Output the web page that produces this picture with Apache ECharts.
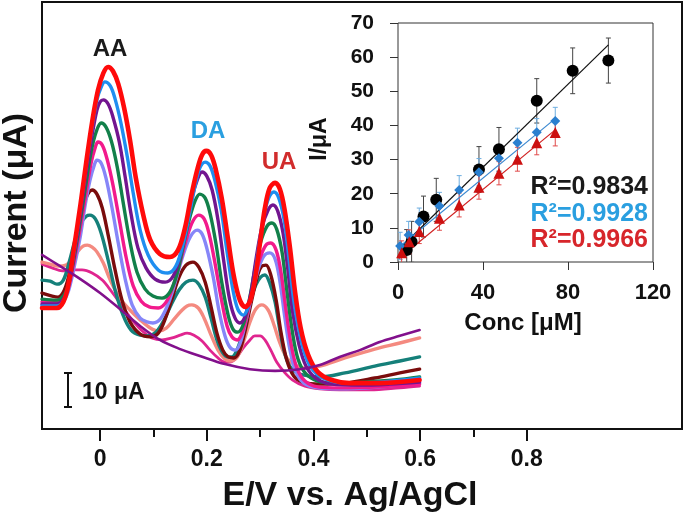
<!DOCTYPE html>
<html>
<head>
<meta charset="utf-8">
<script src="https://cdn.jsdelivr.net/npm/echarts@6.0.0/dist/echarts.min.js"></script>
<style>html,body{margin:0;padding:0;background:#fff}#c{width:685px;height:519px}</style>
</head>
<body>
<div id="c"></div>
<script>
// ---------- Main DPV curves: [potential (V vs Ag/AgCl), current (uA)] ----------
const curveRed = [[-0.109,35.6],[-0.081,35.6],[-0.069,37.4],[-0.060,42.1],[-0.049,53.2],[-0.037,65.9],[-0.026,78.5],[-0.015,90.3],[-0.004,99.7],[0.006,104.7],[0.015,106.5],[0.024,105.3],[0.034,101.5],[0.045,94.4],[0.056,85.0],[0.067,73.8],[0.081,62.9],[0.094,55.6],[0.112,51.5],[0.131,50.6],[0.146,52.6],[0.159,59.1],[0.170,67.9],[0.182,76.2],[0.191,80.6],[0.199,81.8],[0.208,80.6],[0.217,76.2],[0.228,67.9],[0.240,55.6],[0.251,44.7],[0.262,37.9],[0.272,35.9],[0.281,37.6],[0.290,43.8],[0.300,55.0],[0.309,65.0],[0.318,70.9],[0.328,72.4],[0.337,70.6],[0.346,64.4],[0.356,53.2],[0.365,40.9],[0.376,29.7],[0.390,21.8],[0.408,16.8],[0.434,14.4],[0.468,13.5],[0.524,13.5],[0.599,14.4]];
const curveBlue = [[-0.109,36.2],[-0.081,36.2],[-0.069,37.6],[-0.060,41.8],[-0.049,52.1],[-0.037,65.0],[-0.026,77.6],[-0.015,88.8],[-0.006,96.8],[0.002,100.6],[0.009,102.1],[0.019,100.9],[0.028,97.1],[0.039,90.0],[0.051,80.0],[0.062,69.4],[0.075,58.5],[0.090,51.2],[0.109,46.8],[0.127,45.9],[0.142,47.9],[0.155,54.1],[0.167,62.9],[0.178,71.5],[0.187,76.8],[0.197,78.5],[0.206,77.4],[0.215,73.2],[0.227,64.4],[0.238,52.1],[0.249,40.9],[0.258,35.3],[0.268,33.5],[0.277,35.6],[0.287,41.8],[0.296,52.1],[0.307,62.6],[0.316,67.9],[0.326,69.7],[0.335,67.9],[0.345,61.5],[0.354,50.3],[0.363,37.9],[0.375,27.4],[0.388,20.3],[0.406,16.2],[0.434,14.1],[0.468,13.5],[0.524,13.8],[0.599,15.0]];
const curveViolet = [[-0.109,36.8],[-0.081,36.8],[-0.069,38.2],[-0.060,41.8],[-0.049,50.9],[-0.037,63.2],[-0.026,75.6],[-0.015,86.5],[-0.006,93.8],[0,96.2],[0.006,96.8],[0.015,95.6],[0.024,91.8],[0.036,84.4],[0.047,74.1],[0.058,63.2],[0.071,53.2],[0.086,47.4],[0.103,44.1],[0.122,43.2],[0.137,45.0],[0.150,50.9],[0.161,59.1],[0.172,67.9],[0.182,73.2],[0.191,75.6],[0.200,74.4],[0.210,70.3],[0.221,61.5],[0.232,49.1],[0.243,37.9],[0.253,32.6],[0.262,31.2],[0.272,33.2],[0.283,40.3],[0.292,49.7],[0.303,59.1],[0.315,64.4],[0.324,65.9],[0.333,64.1],[0.343,57.6],[0.352,46.8],[0.361,34.4],[0.373,24.7],[0.386,18.5],[0.404,15.0],[0.434,13.2],[0.487,12.9],[0.543,13.2],[0.599,13.8]];
const curveGreen = [[-0.109,38.2],[-0.081,37.9],[-0.069,39.1],[-0.060,42.1],[-0.049,50.3],[-0.037,61.5],[-0.026,72.6],[-0.017,81.5],[-0.007,87.6],[0.002,90.0],[0.011,88.8],[0.021,84.7],[0.032,77.1],[0.043,66.8],[0.056,55.0],[0.069,46.2],[0.084,41.2],[0.099,39.1],[0.116,38.5],[0.131,40.3],[0.144,45.6],[0.155,53.2],[0.167,61.5],[0.178,67.1],[0.187,69.1],[0.197,67.9],[0.206,63.5],[0.217,54.7],[0.228,43.2],[0.240,33.5],[0.249,29.4],[0.258,28.5],[0.268,30.6],[0.279,37.4],[0.290,46.8],[0.301,55.0],[0.313,59.7],[0.322,60.6],[0.331,58.8],[0.341,52.1],[0.350,40.9],[0.360,29.1],[0.371,20.6],[0.386,16.2],[0.408,14.1],[0.440,13.5],[0.496,13.8],[0.552,14.4],[0.599,15.3]];
const curveHotPink = [[-0.109,37.4],[-0.081,37.4],[-0.069,38.5],[-0.060,41.2],[-0.049,49.1],[-0.037,59.4],[-0.026,69.7],[-0.017,78.2],[-0.009,82.9],[-0.004,84.4],[0.004,83.5],[0.013,79.4],[0.024,71.8],[0.036,61.5],[0.049,50.3],[0.062,42.1],[0.077,37.6],[0.092,35.9],[0.109,35.6],[0.124,37.4],[0.137,42.1],[0.150,49.1],[0.163,56.5],[0.174,61.2],[0.185,62.9],[0.195,61.8],[0.204,57.6],[0.215,49.1],[0.227,38.5],[0.238,30.3],[0.247,27.1],[0.257,26.2],[0.266,28.2],[0.277,34.7],[0.288,43.2],[0.300,50.3],[0.311,54.1],[0.320,54.7],[0.330,52.6],[0.339,46.2],[0.348,35.6],[0.358,25.0],[0.369,17.9],[0.384,14.1],[0.408,12.4],[0.449,12.1],[0.524,12.4],[0.599,13.2]];
const curveLavender = [[-0.109,36.5],[-0.081,36.5],[-0.069,37.6],[-0.060,40.3],[-0.049,47.4],[-0.037,56.8],[-0.028,65.9],[-0.019,73.2],[-0.011,77.6],[-0.006,79.1],[0.002,78.2],[0.011,73.8],[0.022,65.3],[0.034,54.7],[0.047,44.1],[0.060,36.5],[0.075,32.6],[0.088,31.5],[0.099,31.2],[0.114,32.6],[0.129,37.4],[0.142,43.8],[0.155,50.9],[0.169,56.5],[0.182,58.5],[0.191,57.4],[0.200,53.2],[0.212,44.7],[0.223,34.7],[0.234,27.4],[0.243,24.1],[0.253,23.2],[0.262,25.0],[0.273,31.5],[0.285,39.7],[0.296,46.8],[0.307,50.9],[0.318,51.8],[0.328,50.0],[0.337,43.5],[0.346,33.2],[0.356,23.2],[0.367,16.8],[0.382,13.5],[0.408,12.1],[0.449,11.8],[0.524,12.4],[0.599,13.5]];
const curveMaroon = [[-0.109,40.0],[-0.090,39.1],[-0.079,38.8],[-0.067,40.9],[-0.056,46.8],[-0.045,56.2],[-0.034,64.4],[-0.024,68.8],[-0.015,70.3],[-0.006,69.1],[0.004,65.0],[0.015,57.1],[0.028,46.8],[0.041,37.9],[0.056,31.5],[0.075,27.9],[0.094,27.1],[0.109,28.2],[0.122,32.4],[0.135,38.5],[0.148,44.7],[0.161,48.2],[0.174,49.1],[0.185,47.6],[0.197,43.2],[0.208,35.9],[0.219,28.2],[0.230,23.2],[0.240,21.2],[0.251,20.9],[0.262,23.2],[0.273,29.7],[0.285,38.5],[0.296,45.6],[0.303,47.9],[0.311,48.2],[0.320,45.3],[0.330,37.9],[0.339,28.5],[0.350,20.3],[0.363,15.6],[0.380,13.8],[0.412,13.2],[0.459,13.5],[0.515,15.0],[0.562,16.5],[0.599,17.6]];
const curveTeal = [[-0.109,43.8],[-0.094,43.5],[-0.081,42.6],[-0.069,43.8],[-0.058,49.1],[-0.047,55.6],[-0.036,60.6],[-0.026,62.6],[-0.019,62.9],[-0.009,61.8],[0.002,57.6],[0.015,49.7],[0.028,40.9],[0.043,33.5],[0.058,29.1],[0.075,27.6],[0.088,27.4],[0.103,28.2],[0.118,31.5],[0.133,36.5],[0.148,40.9],[0.161,43.2],[0.174,43.8],[0.185,42.6],[0.197,38.8],[0.208,32.6],[0.219,26.2],[0.230,22.4],[0.240,21.2],[0.247,21.2],[0.258,23.8],[0.270,30.0],[0.281,37.4],[0.292,42.4],[0.301,44.7],[0.309,45.3],[0.318,42.9],[0.328,37.4],[0.337,29.1],[0.348,21.2],[0.361,17.4],[0.380,15.9],[0.412,15.3],[0.459,16.5],[0.515,18.5],[0.562,20.0],[0.599,21.2]];
const curveSalmon = [[-0.109,49.1],[-0.094,48.5],[-0.079,47.9],[-0.064,48.2],[-0.052,50.0],[-0.041,52.4],[-0.032,53.8],[-0.024,54.1],[-0.015,53.5],[-0.006,52.1],[0.006,48.8],[0.019,43.8],[0.037,38.5],[0.056,35.0],[0.075,32.1],[0.094,29.7],[0.109,28.8],[0.124,29.7],[0.139,32.4],[0.152,34.7],[0.163,36.2],[0.172,36.5],[0.184,35.6],[0.195,32.6],[0.208,27.6],[0.221,23.2],[0.232,20.9],[0.243,20.0],[0.257,21.2],[0.270,26.2],[0.281,31.5],[0.292,35.3],[0.303,36.5],[0.315,35.0],[0.326,30.6],[0.337,25.3],[0.350,20.9],[0.365,18.8],[0.384,17.9],[0.412,18.5],[0.459,20.9],[0.515,23.5],[0.562,25.3],[0.599,26.8]];
const curveMagenta = [[-0.109,48.5],[-0.090,47.4],[-0.071,46.5],[-0.052,46.8],[-0.034,46.8],[-0.015,45.9],[0.004,43.8],[0.022,40.3],[0.041,36.2],[0.060,32.1],[0.079,28.8],[0.097,26.8],[0.116,26.2],[0.135,26.8],[0.150,27.6],[0.163,28.2],[0.176,27.6],[0.191,25.9],[0.206,23.2],[0.221,20.9],[0.234,19.7],[0.243,19.7],[0.255,20.9],[0.268,23.8],[0.281,26.2],[0.290,27.4],[0.300,27.4],[0.309,26.2],[0.320,23.2],[0.331,19.7],[0.345,16.8],[0.361,14.4],[0.384,12.6],[0.412,11.8],[0.449,11.5],[0.506,11.5],[0.562,12.1],[0.599,12.6]];
const curveBlank = [[-0.109,51.2],[-0.075,47.9],[-0.037,44.1],[0,40.0],[0.037,35.3],[0.075,30.3],[0.112,26.2],[0.150,23.5],[0.187,21.5],[0.234,19.1],[0.281,17.6],[0.328,17.1],[0.375,17.6],[0.412,18.8],[0.449,21.2],[0.487,23.2],[0.524,25.6],[0.562,27.4],[0.599,29.1]];

// main axis ticks
const mainLabelValues = [0, 0.2, 0.4, 0.6, 0.8];
const mainMinorTicks = [0, 0.1, 0.2, 0.3, 0.4, 0.5, 0.6, 0.7, 0.8];

// ---------- Inset calibration data ----------
const aaConc = [4.1, 6.4, 12, 18, 38.1, 47.5, 65.3, 82.2, 99];
const aaCurrent = [3.5, 5.9, 13.3, 18.2, 27.1, 33.0, 47.2, 56.0, 59.0];
const aaErr = [6, 6, 6, 6.3, 6.7, 6.4, 6.5, 6.7, 6.6];
const daConc = [1, 5, 10, 19.5, 28.8, 38.1, 47.5, 56.2, 65.3, 74];
const daCurrent = [4.7, 7.9, 11.8, 16.4, 21.1, 26.3, 30.4, 34.9, 38.0, 41.3];
const daErr = [4, 4, 4, 4, 4.2, 4, 4, 4.3, 4, 4];
const uaConc = [1.7, 5.3, 10, 19.5, 28.8, 38.1, 47.5, 56.2, 65.3, 74];
const uaCurrent = [2.7, 5.9, 8.9, 12.8, 16.7, 21.9, 26.0, 30.1, 34.9, 37.9];
const uaErr = [3.5, 3.5, 3.5, 3.5, 3.5, 3.5, 3.4, 3.5, 3.5, 3.9];
const aaFit = [[1, 4.1], [99, 63.6]];
const daFit = [[1, 4.6], [74, 42.0]];
const uaFit = [[0.5, 1.0], [74, 38.7]];
const r2Texts = ['R\u00B2=0.9834', 'R\u00B2=0.9928', 'R\u00B2=0.9966'];
const insetXTicks = [0, 40, 80, 120];
const insetYMax = 70;

const FONT = '"Liberation Sans", Arial, Helvetica, sans-serif';
const chart = echarts.init(document.getElementById('c'));

function curve(name, data, color, width) {
  return {
    name, type: 'line', xAxisIndex: 0, yAxisIndex: 0, data,
    showSymbol: false, smooth: 0.35, silent: true,
    lineStyle: { color, width, cap: 'round', join: 'round' }
  };
}
function errBars(name, xs, ys, es, color) {
  return {
    name, type: 'custom', xAxisIndex: 2, yAxisIndex: 1, clip: true, z: 2,
    data: xs.map((x, i) => [x, ys[i], es[i]]),
    renderItem: function (params, api) {
      const x = api.value(0), y = api.value(1), e = api.value(2);
      const t = api.coord([x, y + e]);
      const b = api.coord([x, y - e]);
      const c = 2.5;
      const st = { stroke: color, lineWidth: 1 };
      return {
        type: 'group', children: [
          { type: 'line', shape: { x1: t[0], y1: t[1], x2: b[0], y2: b[1] }, style: st },
          { type: 'line', shape: { x1: t[0] - c, y1: t[1], x2: t[0] + c, y2: t[1] }, style: st },
          { type: 'line', shape: { x1: b[0] - c, y1: b[1], x2: b[0] + c, y2: b[1] }, style: st }
        ]
      };
    }
  };
}
function fitLine(name, data, color) {
  return { name, type: 'line', xAxisIndex: 2, yAxisIndex: 1, data, showSymbol: false, z: 3,
    lineStyle: { color, width: 1.2 } };
}
function pts(name, xs, ys, symbol, size, color) {
  return { name, type: 'scatter', xAxisIndex: 2, yAxisIndex: 1, z: 4,
    data: xs.map((x, i) => [x, ys[i]]), symbol, symbolSize: size,
    itemStyle: { color, opacity: 1 } };
}
function txt(text, x, y, size, color, opts) {
  opts = opts || {};
  return {
    type: 'text', x, y, rotation: opts.rotation || 0, z: 100,
    style: { text, fill: color, font: 'bold ' + size + 'px ' + FONT,
      align: opts.align || 'center', verticalAlign: 'middle' }
  };
}

const option = {
  animation: false,
  backgroundColor: '#ffffff',
  grid: [
    { left: 42, top: 2, width: 640, height: 427, show: true, borderColor: '#111', borderWidth: 2, backgroundColor: 'transparent' },
    { left: 398, top: 23, width: 255, height: 239, show: true, borderColor: '#333', borderWidth: 1, backgroundColor: 'transparent' }
  ],
  xAxis: [
    { gridIndex: 0, type: 'value', min: -0.109, max: 1.091, position: 'bottom',
      axisLine: { show: false }, splitLine: { show: false },
      axisTick: { show: true, customValues: mainMinorTicks, length: 8, lineStyle: { color: '#111', width: 2 } },
      axisLabel: { customValues: mainLabelValues, margin: 19, color: '#111', fontSize: 23, fontWeight: 'bold', fontFamily: FONT,
        formatter: v => String(Math.round(v * 10) / 10) } },
    { gridIndex: 0, type: 'value', min: -0.109, max: 1.091, position: 'bottom', offset: 0,
      axisLine: { show: false }, splitLine: { show: false },
      axisTick: { show: true, customValues: mainLabelValues, length: 12, lineStyle: { color: '#111', width: 2 } },
      axisLabel: { show: false } },
    { gridIndex: 1, type: 'value', min: insetXTicks[0], max: insetXTicks[insetXTicks.length - 1], interval: 40,
      axisLine: { show: false }, splitLine: { show: false },
      axisTick: { show: true, length: 8, lineStyle: { color: '#333', width: 1 } },
      axisLabel: { margin: 20, color: '#111', fontSize: 22, fontWeight: 'bold', fontFamily: FONT } }
  ],
  yAxis: [
    { gridIndex: 0, type: 'value', min: 0, max: 125.6, show: false },
    { gridIndex: 1, type: 'value', min: 0, max: insetYMax, interval: 10,
      axisLine: { show: false }, splitLine: { show: false },
      axisTick: { show: true, length: 8, lineStyle: { color: '#333', width: 1 } },
      axisLabel: { margin: 24, color: '#111', fontSize: 21, fontWeight: 'bold', fontFamily: FONT } }
  ],
  series: [
    curve('magenta', curveMagenta, '#e0258f', 2.8),
    curve('salmon', curveSalmon, '#f48a80', 3.4),
    curve('teal', curveTeal, '#15807a', 3.4),
    curve('maroon', curveMaroon, '#7a0c0c', 3.4),
    curve('lavender', curveLavender, '#8686f8', 3.4),
    curve('hotpink', curveHotPink, '#f21a8c', 3.4),
    curve('green', curveGreen, '#12804a', 3.4),
    curve('violet', curveViolet, '#72158f', 3.4),
    curve('blue', curveBlue, '#1f8ef0', 3.4),
    curve('red', curveRed, '#ff0a0a', 4.6),
    curve('blank', curveBlank, '#82108c', 2.6),
    errBars('aaErr', aaConc, aaCurrent, aaErr, '#444'),
    errBars('daErr', daConc, daCurrent, daErr, '#6eaee0'),
    errBars('uaErr', uaConc, uaCurrent, uaErr, '#e04a4a'),
    fitLine('aaFit', aaFit, '#111'),
    fitLine('daFit', daFit, '#3b88d0'),
    fitLine('uaFit', uaFit, '#d02020'),
    pts('AA', aaConc, aaCurrent, 'circle', 12, '#000'),
    pts('DA', daConc, daCurrent, 'diamond', 10, '#2a7fcf'),
    pts('UA', uaConc, uaCurrent, 'triangle', 11, '#cc1010')
  ],
  graphic: [
    txt('Current (\u03BCA)', 17, 213, 34, '#111', { rotation: Math.PI / 2 }),
    txt('E/V vs. Ag/AgCl', 350, 496, 34, '#111'),
    txt('AA', 110, 49, 24, '#1a1a1a'),
    txt('DA', 208, 131, 24, '#2a9fe0'),
    txt('UA', 279, 162, 24, '#d12c2c'),
    txt('I/\u03BCA', 320, 139, 23, '#111', { rotation: Math.PI / 2 }),
    txt('Conc [\u03BCM]', 523, 323, 24, '#111'),
    txt(r2Texts[0], 648, 187, 25, '#1a1a1a', { align: 'right' }),
    txt(r2Texts[1], 648, 214, 25, '#2a9fe0', { align: 'right' }),
    txt(r2Texts[2], 648, 240, 25, '#d7262b', { align: 'right' }),
    { type: 'group', z: 100, children: [
      { type: 'line', shape: { x1: 68, y1: 373, x2: 68, y2: 407 }, style: { stroke: '#111', lineWidth: 2 } },
      { type: 'line', shape: { x1: 64, y1: 373, x2: 72, y2: 373 }, style: { stroke: '#111', lineWidth: 2 } },
      { type: 'line', shape: { x1: 64, y1: 407, x2: 72, y2: 407 }, style: { stroke: '#111', lineWidth: 2 } }
    ] },
    txt('10 \u03BCA', 82, 393, 23, '#111', { align: 'left' })
  ]
};
chart.setOption(option);
</script>
</body>
</html>
